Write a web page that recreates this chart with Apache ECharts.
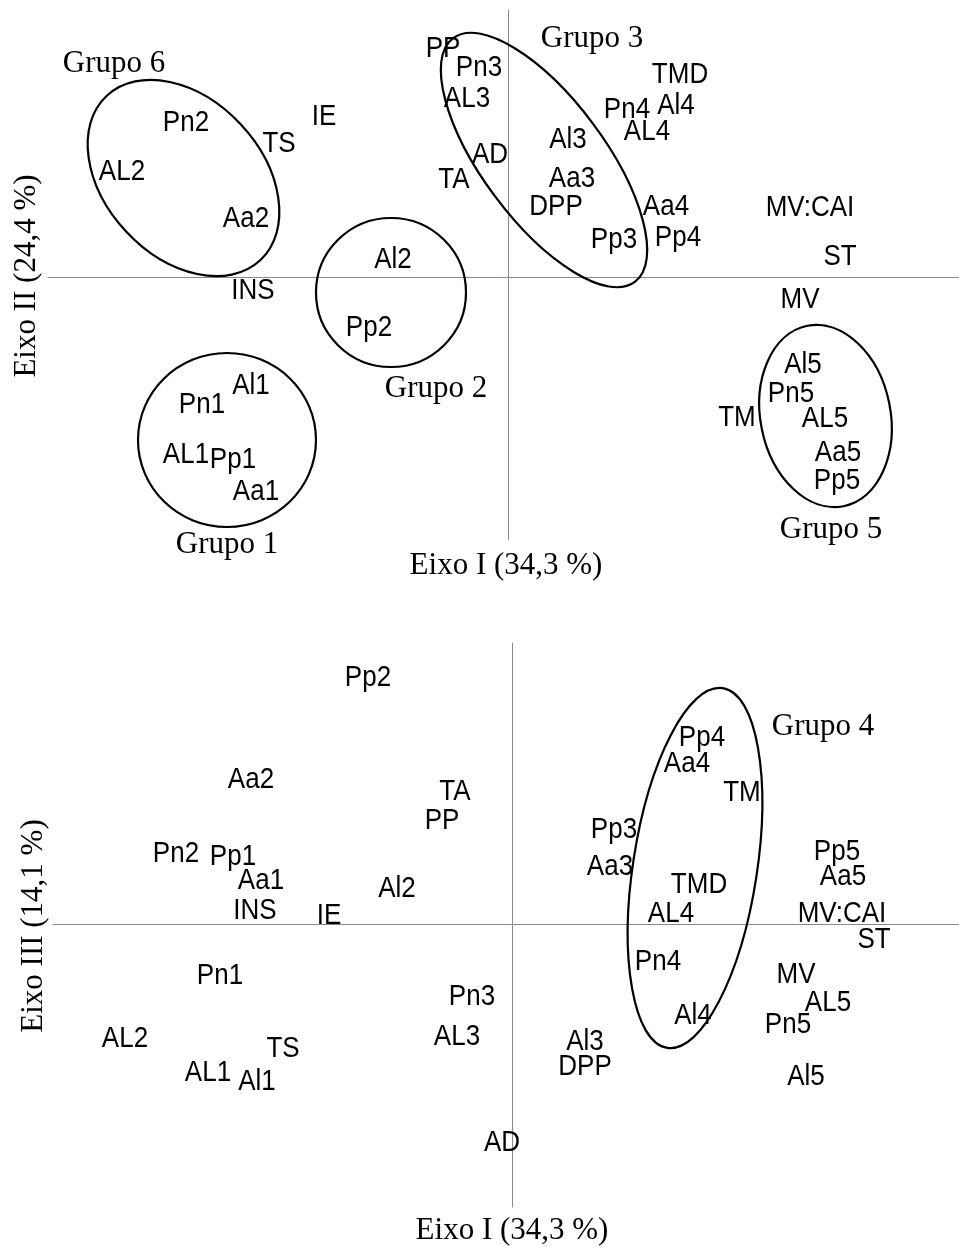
<!DOCTYPE html>
<html>
<head>
<meta charset="utf-8">
<script src="https://cdn.jsdelivr.net/npm/echarts@6/dist/echarts.min.js"></script>
<style>
html,body{margin:0;padding:0;background:#fff;}
#chart{width:959px;height:1247px;}
</style>
</head>
<body>
<div id="chart"></div>
<script>
// ---------- Panel 1: Eixo I x Eixo II ----------
const namesTop = ['Pn2','TS','IE','AL2','Aa2','INS','Al2','PP','TA','Pn3','AL3','AD','Al3','Aa3','DPP','Pp3','TMD','Pn4','Al4','AL4','Aa4','Pp4','MV:CAI','ST','MV','Al5','Pn5','TM','AL5','Aa5','Pp5','Pp2','Al1','Pn1','AL1','Pp1','Aa1'];
const eixoITop = [-3.22,-2.29,-1.84,-3.86,-2.62,-2.55,-1.15,-0.65,-0.54,-0.29,-0.41,-0.18,0.60,0.64,0.48,1.06,1.72,1.19,1.68,1.39,1.58,1.70,3.02,3.32,2.92,2.95,2.83,2.29,3.17,3.30,3.29,-1.39,-2.57,-3.06,-3.22,-2.75,-2.52];
const eixoIITop = [1.54,1.33,1.60,1.05,0.58,-0.14,0.17,2.28,0.97,2.09,1.78,1.22,1.37,0.98,0.70,0.37,2.02,1.67,1.71,1.45,0.70,0.39,0.69,0.20,-0.23,-0.88,-1.17,-1.41,-1.42,-1.76,-2.04,-0.51,-1.09,-1.28,-1.78,-1.83,-2.15];
const groupNamesTop = ['Grupo 6','Grupo 3','Grupo 2','Grupo 1','Grupo 5'];
const groupLabelXTop = [-3.94,0.84,-0.72,-2.81,3.23];
const groupLabelYTop = [2.14,2.39,-1.11,-2.67,-2.52];
// ellipses: centre x, centre y, semi-axis a, semi-axis b, angle (deg)
const ellipseCxTop = [-3.245,-1.17,-2.81,0.36,3.175];
const ellipseCyTop = [0.99,-0.155,-1.63,1.17,-1.39];
const ellipseATop = [1.125,0.75,0.89,1.52,0.92];
const ellipseBTop = [0.785,0.745,0.87,0.61,0.65];
const ellipseAngleTop = [-47,0,0,-53.3,-78.7];

// ---------- Panel 2: Eixo I x Eixo III ----------
const namesBot = ['Pp2','Aa2','TA','PP','Pn2','Pp1','Aa1','INS','IE','Al2','Pp4','Aa4','TM','Pp3','Aa3','TMD','AL4','Pp5','Aa5','MV:CAI','ST','Pn4','MV','AL5','Al4','Pn5','Al3','DPP','Al5','AD','Pn1','Pn3','AL2','AL3','TS','AL1','Al1'];
const eixoIBot = [-1.44,-2.61,-0.57,-0.70,-3.36,-2.79,-2.51,-2.57,-1.83,-1.15,1.90,1.75,2.30,1.02,0.98,1.87,1.59,3.25,3.31,3.30,3.62,1.46,2.84,3.16,1.81,2.76,0.73,0.73,2.94,-0.10,-2.92,-0.40,-3.87,-0.55,-2.29,-3.04,-2.55];
const eixoIIIBot = [2.46,1.44,1.32,1.03,0.70,0.67,0.43,0.13,0.08,0.35,1.86,1.60,1.31,0.94,0.57,0.39,0.10,0.72,0.47,0.10,-0.16,-0.38,-0.51,-0.79,-0.92,-1.01,-1.18,-1.43,-1.53,-2.19,-0.52,-0.73,-1.15,-1.13,-1.25,-1.49,-1.58];
const groupNamesBot = ['Grupo 4'];
const groupLabelXBot = [3.11];
const groupLabelYBot = [1.98];
const ellipseCxBot = [1.83];
const ellipseCyBot = [0.56];
const ellipseABot = [1.82];
const ellipseBBot = [0.62];
const ellipseAngleBot = [81.25];

const axisTitles = {
  xTop: 'Eixo I (34,3 %)',
  yTop: 'Eixo II (24,4 %)',
  xBot: 'Eixo I (34,3 %)',
  yBot: 'Eixo III (14,1 %)'
};

// ---------- build ----------
const SANS = '"Liberation Sans", Arial, sans-serif';
const SERIF = '"Liberation Serif", "Times New Roman", serif';

function pts(names, xs, ys) {
  return names.map((n, i) => ({ name: n, value: [xs[i], ys[i]] }));
}
function ell(cx, cy, a, b, ang) {
  return cx.map((v, i) => [v, cy[i], a[i], b[i], ang[i]]);
}
function axisCommon(min, max, gridIndex) {
  return {
    type: 'value', gridIndex, min, max,
    axisLine: { show: true, onZero: true, lineStyle: { color: '#8a8a8a', width: 1 } },
    axisTick: { show: false }, axisLabel: { show: false }, splitLine: { show: false }
  };
}
function labelSeries(data, idx, font, size, sy) {
  return {
    type: 'custom', xAxisIndex: idx, yAxisIndex: idx, data: data.map(d => [d.value[0], d.value[1]]),
    silent: true, z: 5,
    renderItem: (params, api) => {
      const c = api.coord([api.value(0), api.value(1)]);
      return {
        type: 'text', x: c[0], y: c[1], scaleY: sy,
        style: {
          text: data[params.dataIndex].name,
          font: size + 'px ' + font,
          fill: '#000', align: 'center', verticalAlign: 'middle'
        }
      };
    }
  };
}
function ellipseSeries(data, idx) {
  return {
    type: 'custom', xAxisIndex: idx, yAxisIndex: idx, data, silent: true, z: 4,
    renderItem: (params, api) => {
      const c = api.coord([api.value(0), api.value(1)]);
      const s = api.size([api.value(2), api.value(3)]);
      return {
        type: 'ellipse', x: c[0], y: c[1],
        rotation: api.value(4) * Math.PI / 180,
        shape: { cx: 0, cy: 0, rx: s[0], ry: s[1] },
        style: { fill: 'none', stroke: '#000', lineWidth: 2.2 }
      };
    }
  };
}

const chart = echarts.init(document.getElementById('chart'), null, { renderer: 'canvas' });
chart.setOption({
  animation: false,
  backgroundColor: '#fff',
  grid: [
    { left: 48, top: 10, width: 911, height: 530 },
    { left: 53, top: 643, width: 906, height: 564 }
  ],
  xAxis: [axisCommon(-4.60, 4.51, 0), axisCommon(-4.59, 4.47, 1)],
  yAxis: [axisCommon(-2.63, 2.67, 0), axisCommon(-2.83, 2.81, 1)],
  series: [
    ellipseSeries(ell(ellipseCxTop, ellipseCyTop, ellipseATop, ellipseBTop, ellipseAngleTop), 0),
    ellipseSeries(ell(ellipseCxBot, ellipseCyBot, ellipseABot, ellipseBBot, ellipseAngleBot), 1),
    labelSeries(pts(namesTop, eixoITop, eixoIITop), 0, SANS, 26, 1.1),
    labelSeries(pts(namesBot, eixoIBot, eixoIIIBot), 1, SANS, 26, 1.1),
    labelSeries(pts(groupNamesTop, groupLabelXTop, groupLabelYTop), 0, SERIF, 31, 1.05),
    labelSeries(pts(groupNamesBot, groupLabelXBot, groupLabelYBot), 1, SERIF, 31, 1.05)
  ],
  graphic: [
    { type: 'text', x: 506, y: 565, scaleY: 1.05, style: { text: axisTitles.xTop, font: '31px ' + SERIF, fill: '#000', align: 'center', verticalAlign: 'middle' } },
    { type: 'text', x: 26, y: 276, rotation: Math.PI / 2, scaleY: 1.05, style: { text: axisTitles.yTop, font: '31px ' + SERIF, fill: '#000', align: 'center', verticalAlign: 'middle' } },
    { type: 'text', x: 512, y: 1230, scaleY: 1.05, style: { text: axisTitles.xBot, font: '31px ' + SERIF, fill: '#000', align: 'center', verticalAlign: 'middle' } },
    { type: 'text', x: 33, y: 926, rotation: Math.PI / 2, scaleY: 1.05, style: { text: axisTitles.yBot, font: '31px ' + SERIF, fill: '#000', align: 'center', verticalAlign: 'middle' } }
  ]
});
</script>
</body>
</html>
